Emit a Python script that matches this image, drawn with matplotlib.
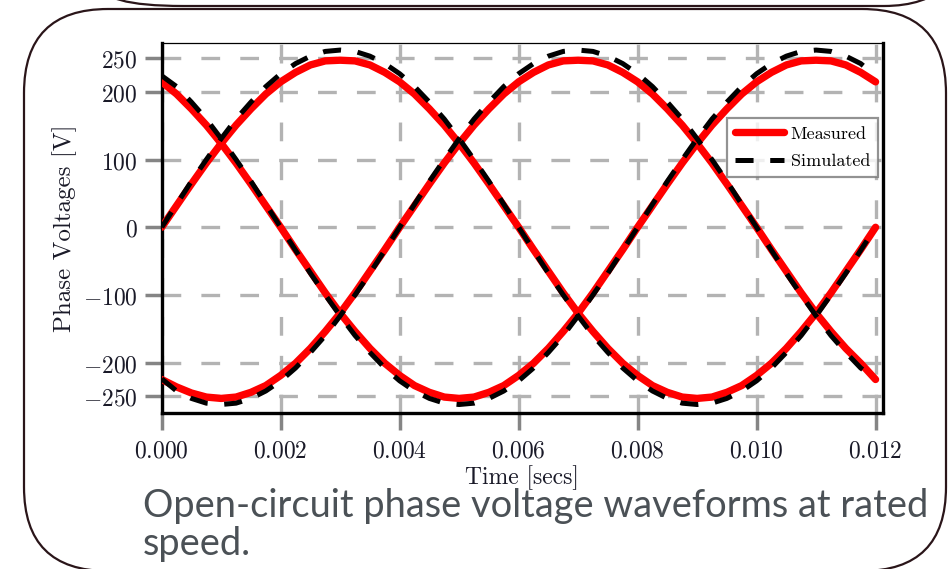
import matplotlib
matplotlib.use("Agg")
import matplotlib.pyplot as plt
from matplotlib.patches import FancyBboxPatch
from matplotlib.transforms import IdentityTransform

# ---------------- data ----------------
time_s = [0.00000, 0.00025, 0.00050, 0.00075, 0.00100, 0.00125, 0.00150,
          0.00175, 0.00200, 0.00225, 0.00250, 0.00275, 0.00300, 0.00325,
          0.00350, 0.00375, 0.00400, 0.00425, 0.00450, 0.00475, 0.00500,
          0.00525, 0.00550, 0.00575, 0.00600, 0.00625, 0.00650, 0.00675,
          0.00700, 0.00725, 0.00750, 0.00775, 0.00800, 0.00825, 0.00850,
          0.00875, 0.00900, 0.00925, 0.00950, 0.00975, 0.01000, 0.01025,
          0.01050, 0.01075, 0.01100, 0.01125, 0.01150, 0.01175, 0.01200]

measured_a = [0, 32, 64, 95, 124, 151, 175, 197, 215, 229, 240, 246, 247,
              246, 240, 229, 215, 197, 175, 151, 124, 95, 64, 32, 0,
              -33, -65, -97, -127, -154, -179, -201, -219, -234, -244, -251,
              -253, -251, -244, -234, -219, -201, -179, -154, -127, -97, -65,
              -33, 0]
measured_b = [215, 197, 175, 151, 124, 95, 64, 32, 0, -33, -65, -97, -127,
              -154, -179, -201, -219, -234, -244, -251, -253, -251, -244,
              -234, -219, -201, -179, -154, -127, -97, -65, -33, 0, 32, 64,
              95, 124, 151, 175, 197, 215, 229, 240, 246, 247, 246, 240, 229,
              215]
measured_c = [-225, -236, -245, -251, -253, -251, -244, -234, -219, -201,
              -179, -154, -127, -97, -65, -33, 0, 32, 64, 95, 124, 151, 175,
              197, 215, 229, 240, 246, 247, 246, 240, 229, 215, 197, 175, 151,
              124, 95, 64, 32, 0, -33, -65, -97, -127, -154, -179, -201, -225]

simulated_a = [0, 34, 68, 100, 131, 160, 185, 208, 227, 242, 253, 260, 262,
               260, 253, 242, 227, 208, 185, 160, 131, 100, 68, 34, 0,
               -34, -68, -100, -131, -160, -185, -208, -227, -242, -253, -260,
               -262, -260, -253, -242, -227, -208, -185, -160, -131, -100, -68,
               -34, 0]
simulated_b = [224, 208, 185, 160, 131, 100, 68, 34, 0, -34, -68, -100, -131,
               -160, -185, -208, -227, -242, -253, -260, -262, -260, -253,
               -242, -227, -208, -185, -160, -131, -100, -68, -34, 0, 34, 68,
               100, 131, 160, 185, 208, 227, 242, 253, 260, 262, 260, 253, 242,
               224]
simulated_c = [-224, -242, -253, -260, -262, -260, -253, -242, -227, -208,
               -185, -160, -131, -100, -68, -34, 0, 34, 68, 100, 131, 160, 185,
               208, 227, 242, 253, 260, 262, 260, 253, 242, 227, 208, 185, 160,
               131, 100, 68, 34, 0, -34, -68, -100, -131, -160, -185, -208,
               -224]

x_ticks = [0.000, 0.002, 0.004, 0.006, 0.008, 0.010, 0.012]
x_tick_labels = ["0.000", "0.002", "0.004", "0.006", "0.008", "0.010", "0.012"]
y_ticks = [-250, -200, -100, 0, 100, 200, 250]
y_tick_labels = ["-250", "-200", "-100", "0", "100", "200", "250"]
legend_labels = ["Measured", "Simulated"]
x_label = "Time [secs]"
y_label = "Phase Voltages [V]"
caption_lines = ["Open-circuit phase voltage waveforms at rated", "speed."]

# ---------------- style ----------------
plt.rcParams["mathtext.fontset"] = "cm"
plt.rcParams["lines.scale_dashes"] = False
SERIF = "cmr10"

W, H = 948, 569
fig = plt.figure(figsize=(W / 100, H / 100), dpi=100)
fig.patch.set_facecolor("white")


def px_rect(x0, y0, x1, y1):
    return [x0 / W, 1 - y1 / H, (x1 - x0) / W, (y1 - y0) / H]


ax = fig.add_axes(px_rect(161.7, 43.3, 882.7, 413.3))

red = "#ff0000"
meas_lines = []
for vals in (measured_a, measured_b, measured_c):
    ln, = ax.plot(time_s, vals, color=red, lw=5.3, solid_capstyle="round",
                  solid_joinstyle="round", zorder=3)
    meas_lines.append(ln)
sim_lines = []
for vals in (simulated_a, simulated_b, simulated_c):
    ln, = ax.plot(time_s, vals, color="black", lw=3.6, linestyle=(0, (13, 12)),
                  dash_capstyle="butt", zorder=4)
    sim_lines.append(ln)

ax.set_xlim(0, 0.01212)
ax.set_ylim(-275, 272)
ax.set_xticks(x_ticks)
ax.set_xticklabels(["$" + s + "$" for s in x_tick_labels])
ax.set_yticks(y_ticks)
ax.set_yticklabels(["$" + s + "$" for s in y_tick_labels])
ax.tick_params(direction="out", length=12.5, width=2.5, color="#858585",
               labelsize=17, labelcolor="#1a1a28")
ax.tick_params(axis="y", pad=5)
ax.tick_params(axis="x", pad=6)

ax.grid(True, color="#b3b3b3", lw=2.4, linestyle=(0, (13.5, 14.5)))
ax.set_axisbelow(True)

for side in ("left", "right", "bottom"):
    ax.spines[side].set_linewidth(2.4)
    ax.spines[side].set_color("black")
ax.spines["top"].set_linewidth(0.9)
ax.spines["top"].set_color("black")

ax.set_xlabel(x_label, fontfamily=SERIF, fontsize=17, color="#1a1a28")
ax.xaxis.set_label_coords(0.5, -0.14)
ax.set_ylabel(y_label, fontfamily=SERIF, fontsize=18, color="#1a1a28")
ax.yaxis.set_label_coords(-0.118, 0.5)

leg = ax.legend([meas_lines[0], sim_lines[0]], legend_labels,
                loc="upper right", bbox_to_anchor=(0.9935, 0.798),
                borderaxespad=0, frameon=True, fancybox=False,
                edgecolor="#777777", framealpha=0.8,
                prop={"family": SERIF, "size": 13},
                handlelength=2.7, handletextpad=0.35, borderpad=0.45,
                labelspacing=0.65)
leg.get_frame().set_linewidth(1.6)

# ---------------- slide frame ----------------
frame_col = "#2a1519"
big = FancyBboxPatch((24, -2), 922, 562,
                     boxstyle="round,pad=0,rounding_size=84",
                     transform=IdentityTransform(), facecolor="none",
                     edgecolor=frame_col, lw=1.6, clip_on=False, zorder=0)
fig.add_artist(big)
top = FancyBboxPatch((100, 563), 867, 106,
                     boxstyle="round,pad=0,rounding_size=83",
                     transform=IdentityTransform(), facecolor="none",
                     edgecolor=frame_col, lw=1.6, clip_on=False, zorder=0)
fig.add_artist(top)

# ---------------- caption ----------------
cap_col = "#4b5156"
fs0 = 28
t1 = fig.text(143 / W, 1 - 517 / H, caption_lines[0], fontfamily="Lato",
              fontsize=fs0, color=cap_col, ha="left", va="baseline")
fig.canvas.draw()
w1 = t1.get_window_extent().width
fs = fs0 * 785.0 / w1
t1.set_fontsize(fs)
fig.text(143 / W, 1 - 555 / H, caption_lines[1], fontfamily="Lato",
         fontsize=fs, color=cap_col, ha="left", va="baseline")

fig.savefig("out.png", dpi=100, facecolor="white")
